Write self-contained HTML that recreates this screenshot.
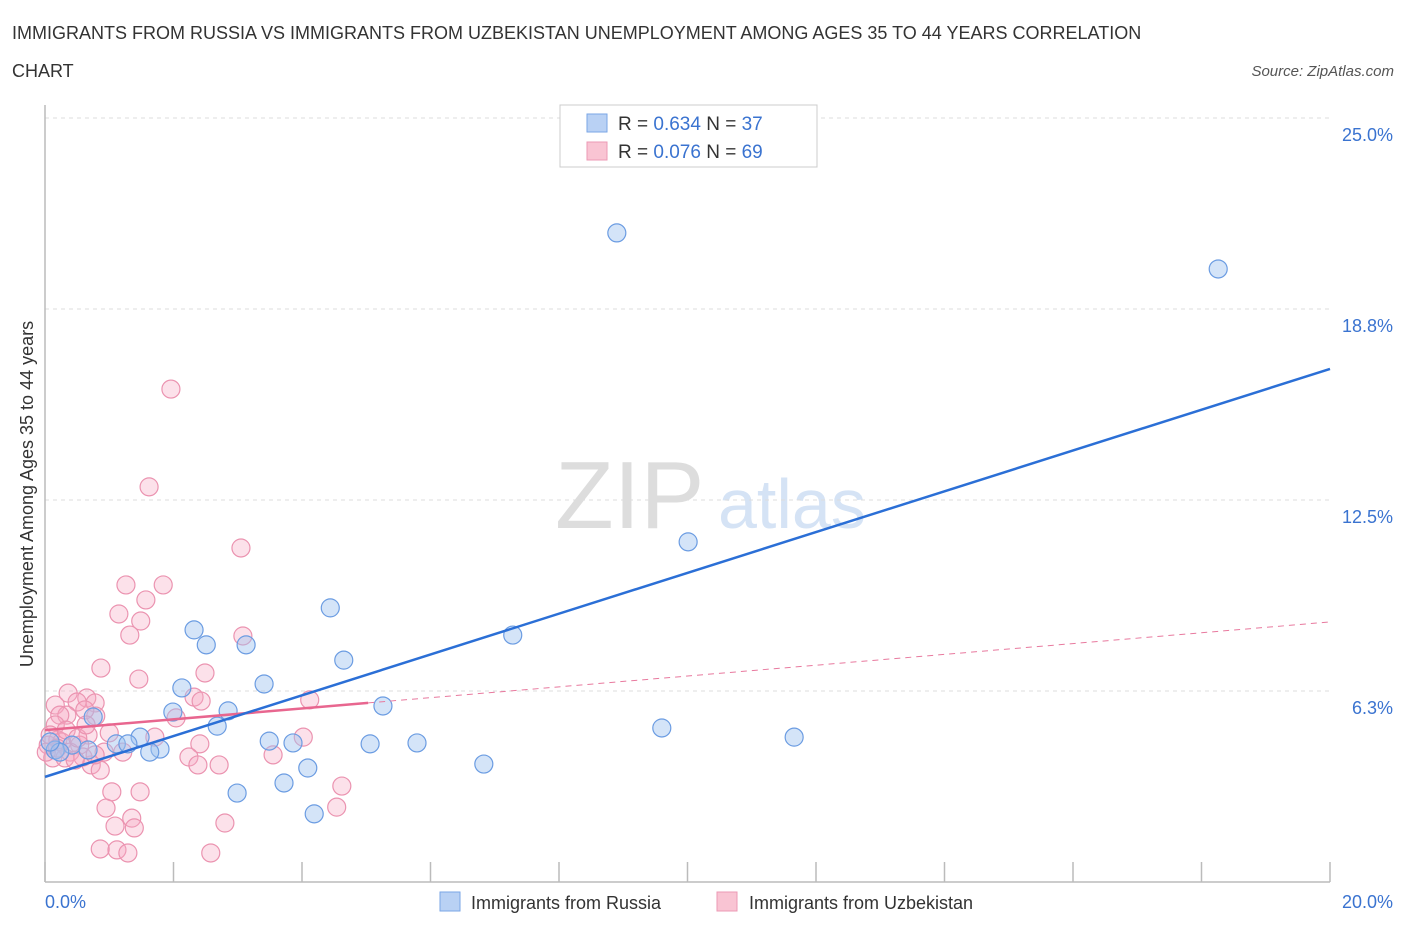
<!DOCTYPE html>
<html><head><meta charset="utf-8"><style>
body{margin:0;background:#fff;font-family:"Liberation Sans",sans-serif;}
svg text{font-family:"Liberation Sans",sans-serif;}
</style></head><body>
<svg id="chart" width="1406" height="930" viewBox="0 0 1406 930" xmlns="http://www.w3.org/2000/svg">
<text x="12" y="39" font-size="18" fill="#333">IMMIGRANTS FROM RUSSIA VS IMMIGRANTS FROM UZBEKISTAN UNEMPLOYMENT AMONG AGES 35 TO 44 YEARS CORRELATION</text>
<text x="12" y="77" font-size="18" fill="#333">CHART</text>
<text x="1394" y="76" font-size="15" fill="#555" text-anchor="end" font-style="italic">Source: ZipAtlas.com</text>
<g>
<text x="555" y="528" font-size="96" fill="#ddd" font-family="Liberation Serif, serif">ZIP</text>
<text x="718" y="528" font-size="70" fill="#d5e3f5">atlas</text>
</g>
<g id="grid"></g>
<g id="axes"></g>
<g id="marks"></g>
<text transform="translate(33,494) rotate(-90)" font-size="18" fill="#333" text-anchor="middle">Unemployment Among Ages 35 to 44 years</text>
<g>
<rect x="560" y="105" width="257" height="62" fill="#fff" stroke="#ccc"/>
<rect x="587" y="114" width="20" height="18" fill="#b9d1f4" stroke="#7aa6e6"/>
<rect x="587" y="142" width="20" height="18" fill="#f9c4d3" stroke="#ec9ab4"/>
<text x="618" y="130" font-size="19" fill="#333">R = <tspan fill="#3a73d0">0.634</tspan>   N = <tspan fill="#3a73d0">37</tspan></text>
<text x="618" y="158" font-size="19" fill="#333">R = <tspan fill="#3a73d0">0.076</tspan>   N = <tspan fill="#3a73d0">69</tspan></text>
</g>
<g>
<rect x="440" y="892" width="20" height="19" fill="#b9d1f4" stroke="#7aa6e6"/>
<text x="471" y="909" font-size="18" fill="#333">Immigrants from Russia</text>
<rect x="717" y="892" width="20" height="19" fill="#f9c4d3" stroke="#ec9ab4"/>
<text x="749" y="909" font-size="18" fill="#333">Immigrants from Uzbekistan</text>
</g>
</svg>
<script>
const russiaX=[8.90,18.26,10.01,4.44,7.28,2.32,2.51,3.13,4.65,3.41,2.13,1.99,2.85,5.26,2.68,9.60,11.66,1.48,1.11,1.29,1.79,1.63,3.49,3.86,5.06,5.79,4.09,6.83,3.72,2.99,4.19,0.42,0.16,0.23,0.75,0.67,0.08];
const russiaY=[21.24,20.06,11.13,8.97,8.08,8.25,7.76,7.76,7.26,6.48,6.35,5.56,5.60,5.76,5.10,5.04,4.74,4.74,4.52,4.52,4.35,4.25,4.61,4.55,4.52,4.55,3.73,3.86,3.24,2.91,2.23,4.48,4.32,4.25,5.40,4.32,4.58];
const uzbX=[1.96,1.62,3.05,1.26,1.84,1.57,1.15,1.49,1.32,3.08,0.87,2.49,1.46,0.36,0.65,2.32,2.43,4.12,0.78,0.50,0.16,0.79,0.34,2.04,0.62,0.23,1.00,1.71,4.02,2.41,0.67,0.16,0.05,0.20,0.26,0.54,0.39,0.92,1.21,2.24,2.38,2.71,0.72,0.59,3.55,0.12,0.31,0.86,1.04,1.48,4.62,0.95,4.54,1.35,1.09,1.39,2.80,0.86,1.12,1.29,2.58,0.47,0.78,0.08,0.33,0.02,0.51,0.19,0.64];
const uzbY=[16.13,12.93,10.93,9.72,9.72,9.23,8.77,8.54,8.08,8.05,7.00,6.84,6.64,6.18,6.02,6.05,5.92,5.96,5.86,5.89,5.79,5.43,5.46,5.37,5.63,5.46,4.88,4.74,4.74,4.52,4.81,5.14,4.48,4.65,4.58,4.48,4.25,4.25,4.25,4.09,3.83,3.83,3.83,4.09,4.16,4.06,4.06,3.66,2.95,2.95,3.14,2.42,2.45,2.09,1.83,1.77,1.93,1.08,1.05,0.95,0.95,3.99,4.16,4.81,4.97,4.25,4.71,4.38,5.14];
const yTicks=[6.25,12.5,18.75,25];
const yTickLabels=["6.3%","12.5%","18.8%","25.0%"];
const xTicks=[0,2,4,6,8,10,12,14,16,18,20];
const russiaTrend=[3.44,16.79];   // y at x=0 and x=20
const uzbTrend=[4.97,8.51];
const uzbSolidEnd=5.03;
const NS="http://www.w3.org/2000/svg";
const X0=45,X1=1330,Y0=882,YPER=30.56;
function sx(v){return X0+(v/20)*(X1-X0);}
function sy(v){return Y0-v*YPER;}
function mk(tag,attrs,parent){const e=document.createElementNS(NS,tag);for(const k in attrs)e.setAttribute(k,attrs[k]);parent.appendChild(e);return e;}
const grid=document.getElementById('grid'),axes=document.getElementById('axes'),marks=document.getElementById('marks'),svg=document.getElementById('chart');
yTicks.forEach((t,i)=>{
  const l=mk('line',{x1:X0,x2:X1,y1:sy(t),y2:sy(t),stroke:'#ddd','stroke-dasharray':'4,4'},grid);
  
  
  const tx=mk('text',{x:1393,y:sy(t)+23,'font-size':18,fill:'#3a73d0','text-anchor':'end'},axes);
  tx.textContent=yTickLabels[i];
  
  
});
const ya=mk('line',{x1:X0,x2:X0,y1:105,y2:Y0,stroke:'#bbb','stroke-width':1.5},axes);


const xa=mk('line',{x1:X0,x2:X1,y1:Y0,y2:Y0,stroke:'#bbb','stroke-width':1.5},axes);


xTicks.forEach(t=>{
  const l=mk('line',{x1:sx(t),x2:sx(t),y1:Y0-20,y2:Y0,stroke:'#bbb','stroke-width':1.5},axes);
  
  
});
const xl0=mk('text',{x:45,y:908,'font-size':18,fill:'#3a73d0'},axes);xl0.textContent='0.0%';


const xl1=mk('text',{x:1393,y:908,'font-size':18,fill:'#3a73d0','text-anchor':'end'},axes);xl1.textContent='20.0%';


uzbX.forEach((x,i)=>{
  const c=mk('circle',{cx:sx(x),cy:sy(uzbY[i]),r:9,fill:'rgba(246,170,196,0.35)',stroke:'#eb93b0','stroke-width':1.2},marks);
  
  
});
russiaX.forEach((x,i)=>{
  const c=mk('circle',{cx:sx(x),cy:sy(russiaY[i]),r:9,fill:'rgba(160,196,240,0.45)',stroke:'#6b9ce2','stroke-width':1.2},marks);
  
  
});
function uy(x){return uzbTrend[0]+(uzbTrend[1]-uzbTrend[0])*x/20;}
const ud=mk('line',{x1:sx(uzbSolidEnd),y1:sy(uy(uzbSolidEnd)),x2:sx(20),y2:sy(uzbTrend[1]),stroke:'#e8799e','stroke-width':1,'stroke-dasharray':'6,5'},marks);


const us=mk('line',{x1:sx(0),y1:sy(uzbTrend[0]),x2:sx(uzbSolidEnd),y2:sy(uy(uzbSolidEnd)),stroke:'#e8668f','stroke-width':2.5},marks);


const rt=mk('line',{x1:sx(0),y1:sy(russiaTrend[0]),x2:sx(20),y2:sy(russiaTrend[1]),stroke:'#2b6fd6','stroke-width':2.5},marks);


</script>
</body></html>
